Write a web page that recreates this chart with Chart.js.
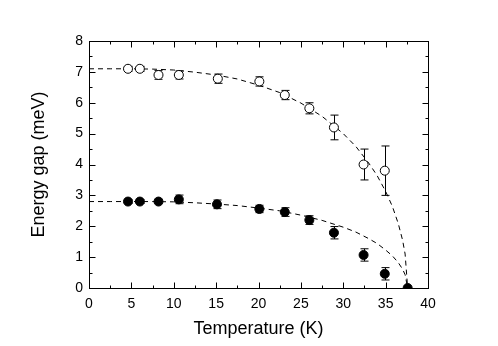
<!DOCTYPE html>
<html><head><meta charset="utf-8">
<script src="https://cdn.jsdelivr.net/npm/chart.js@4"></script>
<style>html,body{margin:0;padding:0;background:#fff}#wrap{width:498px;height:346px;position:relative}</style>
</head><body><div id="wrap"><canvas id="c"></canvas></div>
<script>
// Data
const tempOpen   = [4.6, 6.0, 8.2, 10.6, 15.2, 20.1, 23.1, 26.0, 28.9, 32.4, 34.9];
const gapOpen    = [7.1, 7.1, 6.9, 6.9, 6.78, 6.69, 6.25, 5.82, 5.2, 4.0, 3.8];
const errOpen    = [0.08, 0.08, 0.14, 0.13, 0.15, 0.15, 0.15, 0.18, 0.4, 0.5, 0.8];
const tempFilled = [4.6, 6.0, 8.2, 10.6, 15.1, 20.1, 23.1, 26.0, 28.9, 32.4, 34.9, 37.6];
const gapFilled  = [2.8, 2.8, 2.8, 2.87, 2.71, 2.56, 2.46, 2.2, 1.79, 1.07, 0.46, 0];
const errFilled  = [0.06, 0.06, 0.06, 0.14, 0.14, 0.12, 0.14, 0.14, 0.2, 0.2, 0.2, 0];
// dashed guide curves
const fitTemp  = [0, 2.5, 5, 7.5, 10, 12.5, 15, 17.5, 20, 22.5, 25, 27.5, 30, 31.5, 33, 34, 35, 35.8, 36.5, 37, 37.3, 37.6];
const fitUpper = [7.10, 7.10, 7.10, 7.09, 7.06, 6.99, 6.90, 6.77, 6.57, 6.33, 5.99, 5.56, 5.00, 4.58, 4.05, 3.64, 3.13, 2.64, 2.08, 1.55, 1.10, 0];
const fitLower = [2.80, 2.80, 2.80, 2.80, 2.79, 2.76, 2.72, 2.67, 2.59, 2.50, 2.36, 2.19, 1.97, 1.81, 1.60, 1.44, 1.23, 1.04, 0.82, 0.61, 0.43, 0];
const xTicks = [0, 5, 10, 15, 20, 25, 30, 35, 40];
const yTicks = [0, 1, 2, 3, 4, 5, 6, 7, 8];

const pts = (xs, ys) => xs.map((x, i) => ({x, y: ys[i]}));

const frame = {
  id: 'frame',
  beforeDatasetsDraw(chart) {
    const {ctx, scales: {x, y}} = chart;
    ctx.save();
    ctx.strokeStyle = '#000'; ctx.lineWidth = 1;
    const bars = (xs, ys, es) => xs.forEach((t, i) => {
      if (!es[i]) return;
      const px = Math.round(x.getPixelForValue(t)) + 0.5;
      const y1 = y.getPixelForValue(ys[i] - es[i]);
      const y2 = y.getPixelForValue(ys[i] + es[i]);
      ctx.beginPath();
      ctx.moveTo(px, y1); ctx.lineTo(px, y2);
      ctx.moveTo(px - 4, y1); ctx.lineTo(px + 4, y1);
      ctx.moveTo(px - 4, y2); ctx.lineTo(px + 4, y2);
      ctx.stroke();
    });
    bars(tempOpen, gapOpen, errOpen);
    bars(tempFilled, gapFilled, errFilled);
    ctx.restore();
  },
  afterDraw(chart) {
    const {ctx, chartArea: a, scales: {x, y}} = chart;
    ctx.save();
    ctx.strokeStyle = '#000'; ctx.lineWidth = 1;
    const L = Math.round(a.left) + 0.5, R = Math.round(a.right) + 0.5;
    const T = Math.round(a.top) + 0.5, B = Math.round(a.bottom) + 0.5;
    ctx.strokeRect(L, T, R - L, B - T);
    ctx.beginPath();
    x.ticks.forEach(t => {
      const px = Math.round(x.getPixelForValue(t.value)) + 0.5;
      const len = (t.value % 5 === 0) ? 6 : 3;
      ctx.moveTo(px, B); ctx.lineTo(px, B - len);
      ctx.moveTo(px, T); ctx.lineTo(px, T + len);
    });
    y.ticks.forEach(t => {
      const py = Math.round(y.getPixelForValue(t.value)) + 0.5;
      const len = (Math.abs(t.value - Math.round(t.value)) < 1e-6) ? 6 : 3;
      ctx.moveTo(L, py); ctx.lineTo(L + len, py);
      ctx.moveTo(R, py); ctx.lineTo(R - len, py);
    });
    ctx.stroke();
    ctx.restore();
  }
};

const tickFont = {family: '"Liberation Sans", Arial, sans-serif', size: 14};
const titleFont = {family: '"Liberation Sans", Arial, sans-serif', size: 18};

new Chart(document.getElementById('c'), {
  type: 'scatter',
  data: {
    datasets: [
      {data: pts(fitTemp, fitUpper), showLine: true, borderColor: '#000', borderWidth: 1, borderDash: [5, 4], pointRadius: 0, order: 3},
      {data: pts(fitTemp, fitLower), showLine: true, borderColor: '#000', borderWidth: 1, borderDash: [5, 4], pointRadius: 0, order: 3},
      {data: pts(tempOpen, gapOpen), showLine: false, pointRadius: 4.5, pointBackgroundColor: '#fff', pointBorderColor: '#000', pointBorderWidth: 1, order: 1},
      {data: pts(tempFilled, gapFilled), showLine: false, pointRadius: 4.5, pointBackgroundColor: '#000', pointBorderColor: '#000', pointBorderWidth: 1, order: 1}
    ]
  },
  options: {
    responsive: true, maintainAspectRatio: false, animation: false,
    layout: {padding: {left: 0, right: 70, top: 41, bottom: 0}},
    plugins: {legend: {display: false}, tooltip: {enabled: false}},
    scales: {
      x: {
        type: 'linear', min: 0, max: 40,
        grid: {display: false, drawTicks: false},
        border: {display: false},
        ticks: {stepSize: 2.5, autoSkip: false, maxRotation: 0, minRotation: 0, padding: 8, color: '#000', font: tickFont,
          callback: v => xTicks.includes(v) ? String(v) : ''},
        title: {display: true, text: 'Temperature (K)', color: '#000', font: titleFont, padding: {top: 0, bottom: 6}},
        afterFit: s => { s.height = 58; }
      },
      y: {
        type: 'linear', min: 0, max: 8,
        grid: {display: false, drawTicks: false},
        border: {display: false},
        ticks: {stepSize: 0.5, autoSkip: false, padding: 6, color: '#000', font: tickFont,
          callback: v => yTicks.includes(v) ? String(v) : ''},
        title: {display: true, text: 'Energy gap (meV)', color: '#000', font: titleFont, padding: {top: 28, bottom: 0}},
        afterFit: s => { s.width = 89; }
      }
    }
  },
  plugins: [frame]
});
</script>
</body></html>
